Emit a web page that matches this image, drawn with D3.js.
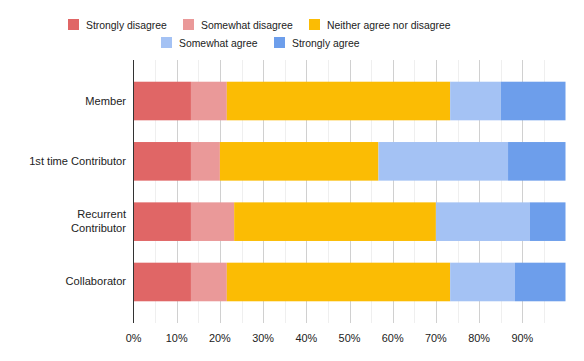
<!DOCTYPE html>
<html><head><meta charset="utf-8">
<script src="https://cdn.jsdelivr.net/npm/d3@7"></script>
<style>body{margin:0;background:#fff}svg{display:block}text{font-family:"Liberation Sans",Arial,sans-serif}</style>
</head><body><svg id="c" width="584" height="361"></svg>
<script>
const categories = ["Member", "1st time Contributor", "Recurrent Contributor", "Collaborator"];
const seriesNames = ["Strongly disagree", "Somewhat disagree", "Neither agree nor disagree", "Somewhat agree", "Strongly agree"];
const stronglyDisagree = [13.3, 13.3, 13.3, 13.3];
const somewhatDisagree = [8.3, 6.7, 10.0, 8.3];
const neither = [51.7, 36.7, 46.7, 51.7];
const somewhatAgree = [11.7, 30.0, 21.7, 15.0];
const stronglyAgree = [15.0, 13.3, 8.3, 11.7];
const xTickLabels = ["0%","10%","20%","30%","40%","50%","60%","70%","80%","90%"];
const colors = ["#e06666", "#ea9999", "#fbbc04", "#a4c2f4", "#6d9eeb"];

const seriesValues = [stronglyDisagree, somewhatDisagree, neither, somewhatAgree, stronglyAgree];
const rows = categories.map((c, i) => {
  const o = {cat: c};
  seriesNames.forEach((s, j) => o[s] = seriesValues[j][i]);
  return o;
});
const stack = d3.stack().keys(seriesNames)(rows);

const svg = d3.select("#c");
const pLeft = 133.5, pRight = 565.5, pTop = 60, pBottom = 323;
const x = d3.scaleLinear().domain([0, 100]).range([pLeft, pRight]);
const y = d3.scaleBand().domain(categories).range([pTop, pBottom]).paddingInner(0.36).paddingOuter(0.36);

// gridlines
const minor = d3.range(5, 100, 10);
const major = d3.range(10, 100, 10);
svg.append("g").selectAll("line").data(minor).join("line")
  .attr("x1", d => Math.round(x(d)) + 0.5).attr("x2", d => Math.round(x(d)) + 0.5)
  .attr("y1", pTop).attr("y2", pBottom).attr("stroke", "#efefef");
svg.append("g").selectAll("line").data(major).join("line")
  .attr("x1", d => Math.round(x(d)) + 0.5).attr("x2", d => Math.round(x(d)) + 0.5)
  .attr("y1", pTop).attr("y2", pBottom).attr("stroke", "#d0d0d0");

// bars
svg.append("g").selectAll("g").data(stack).join("g")
  .attr("fill", (d, i) => colors[i])
  .selectAll("rect").data(d => d).join("rect")
  .attr("x", d => x(d[0])).attr("width", d => x(d[1]) - x(d[0]))
  .attr("y", d => y(d.data.cat)).attr("height", y.bandwidth());

// axis line
svg.append("line").attr("x1", pLeft).attr("x2", pLeft).attr("y1", pTop).attr("y2", pBottom)
  .attr("stroke", "#333").attr("stroke-width", 1);

// x tick labels
svg.append("g").selectAll("text").data(xTickLabels).join("text")
  .attr("x", (d, i) => x(i * 10)).attr("y", 342)
  .attr("text-anchor", "middle").attr("font-size", 10.9).attr("fill", "#222").text(d => d);

// y labels
const yLabelLines = {"Recurrent Contributor": ["Recurrent", "Contributor"]};
categories.forEach(c => {
  const lines = yLabelLines[c] || [c];
  const cy = y(c) + y.bandwidth() / 2;
  const t = svg.append("text").attr("x", 126).attr("text-anchor", "end")
    .attr("font-size", 11.1).attr("fill", "#222");
  lines.forEach((l, k) => {
    t.append("tspan").attr("x", 126)
      .attr("y", cy + 3.5 + (k - (lines.length - 1) / 2) * 14.3).text(l);
  });
});

// legend
const legendRows = [[0, 1, 2], [3, 4]];
const legendY = [24.5, 42.5];
const legendX = [[68, 183, 309], [161, 274]];
legendRows.forEach((r, ri) => {
  r.forEach((si, k) => {
    const g = svg.append("g");
    g.append("rect").attr("x", legendX[ri][k]).attr("y", legendY[ri] - 5.5)
      .attr("width", 11).attr("height", 11).attr("fill", colors[si]);
    g.append("text").attr("x", legendX[ri][k] + 18).attr("y", legendY[ri] + 4)
      .attr("font-size", 10.4).attr("fill", "#222").text(seriesNames[si]);
  });
});
</script></body></html>
